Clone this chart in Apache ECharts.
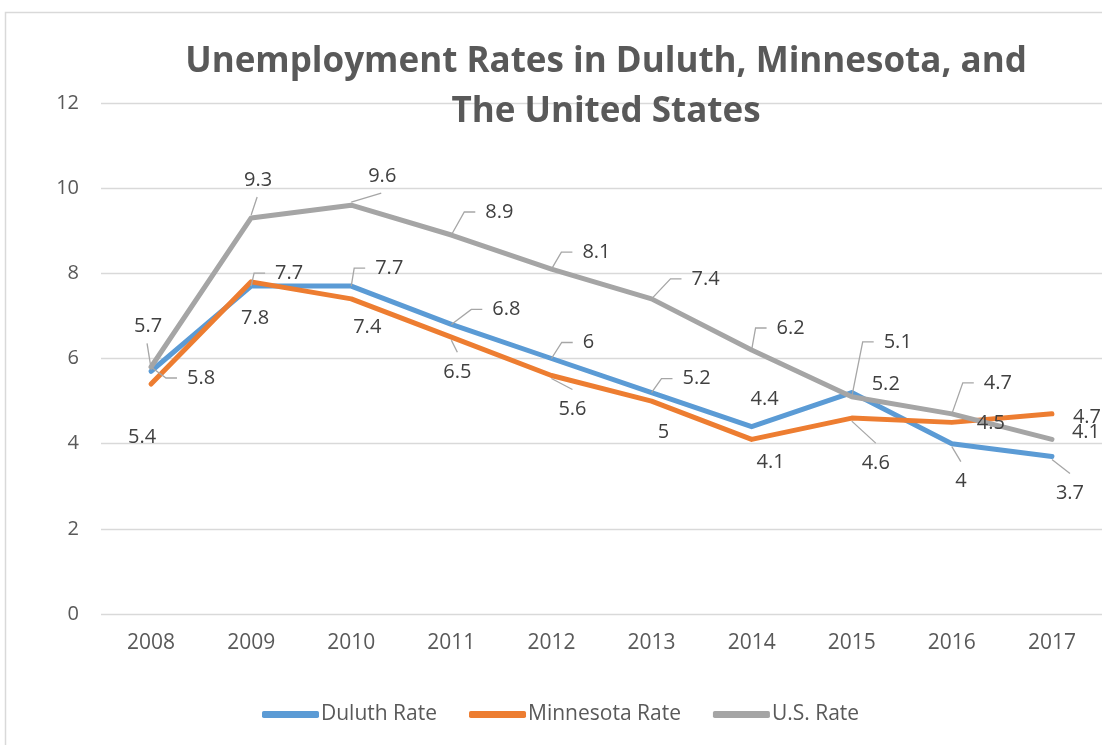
<!DOCTYPE html>
<html>
<head>
<meta charset="utf-8">
<title>Unemployment Rates</title>
<script src="https://cdn.jsdelivr.net/npm/echarts@6/dist/echarts.min.js"></script>
<style>
html, body { margin: 0; padding: 0; background: #fff; }
#main { width: 1102px; height: 745px; }
</style>
</head>
<body>
<div id="main"></div>
<script>
var years = ['2008', '2009', '2010', '2011', '2012', '2013', '2014', '2015', '2016', '2017'];
var duluthRate = [5.7, 7.7, 7.7, 6.8, 6, 5.2, 4.4, 5.2, 4, 3.7];
var minnesotaRate = [5.4, 7.8, 7.4, 6.5, 5.6, 5, 4.1, 4.6, 4.5, 4.7];
var usRate = [5.8, 9.3, 9.6, 8.9, 8.1, 7.4, 6.2, 5.1, 4.7, 4.1];

// where each data label sits relative to its point: [dx, dy, leader line kind]
var duluthLabelPos = [[-3, -45, 'up'], [38, -13, 'br'], [38, -18, 'br'], [55, -15, 'br'], [37, -16, 'br'],
    [45, -14, 'br'], [13, -27, ''], [34, -8, ''], [9, 38, 'dn'], [18, 37, 'dn']];
var minnesotaLabelPos = [[-9, 53, ''], [4, 36, ''], [16, 28, ''], [6, 35, 'dn'], [21, 34, 'dn'],
    [12, 31, ''], [19, 23, ''], [24, 45, 'dn'], [39, 1, ''], [35, 3, '']];
var usLabelPos = [[50, 11, 'br'], [7, -38, 'up'], [31, -29, 'up'], [48, -23, 'br'], [45, -17, 'br'],
    [54, -20, 'br'], [39, -22, 'br'], [46, -55, 'br'], [46, -31, 'br'], [34, -7, '']];

var textColor = '#595959';
var font = '"Open Sans", "Noto Sans", sans-serif';
var labelSize = 20;

var measureCtx = document.createElement('canvas').getContext('2d');
measureCtx.font = labelSize + 'px ' + font;
function textWidth(s) {
    return measureCtx.measureText(s).width;
}

function labelLayoutFor(pos) {
    return function (p) {
        var o = pos[p.dataIndex];
        return {
            x: p.rect.x + p.rect.width / 2 + o[0],
            y: p.rect.y + p.rect.height / 2 + o[1],
            align: 'center',
            verticalAlign: 'middle'
        };
    };
}

function lineSeries(name, data, color, pos) {
    return {
        name: name,
        type: 'line',
        data: data,
        symbol: 'circle',
        symbolSize: 2,
        showSymbol: true,
        lineStyle: { color: color, width: 5, cap: 'round', join: 'round' },
        itemStyle: { color: color },
        label: {
            show: true,
            color: '#404040',
            fontFamily: font,
            fontSize: labelSize
        },
        labelLayout: labelLayoutFor(pos),
        emphasis: { disabled: true },
        z: 2
    };
}

// leader lines, Excel callout style
function leaderSeries(data, pos) {
    return {
        type: 'custom',
        silent: true,
        z: 3,
        data: data.map(function (v, i) { return [i, v]; }),
        renderItem: function (params, api) {
            var i = params.dataIndex;
            var o = pos[i];
            if (!o[2]) return null;
            var pt = api.coord([api.value(0), api.value(1)]);
            var px = pt[0], py = pt[1];
            var cx = px + o[0], cy = py + o[1];
            var pts;
            if (o[2] === 'br') {
                var w = textWidth(String(data[i]));
                pts = [[px, py], [cx - w / 2 - 21, cy], [cx - w / 2 - 10, cy]];
            } else if (o[2] === 'up') {
                pts = [[px, py - 3], [cx - 1, cy + 17]];
            } else {
                pts = [[px, py + 3], [cx, cy - 20]];
            }
            return {
                type: 'polyline',
                shape: { points: pts },
                style: { stroke: '#A6A6A6', lineWidth: 1.3, fill: null }
            };
        }
    };
}

var myChart = echarts.init(document.getElementById('main'));
var option = {
    animation: false,
    backgroundColor: '#fff',
    graphic: [{
        type: 'rect',
        left: 3,
        top: 10,
        shape: { width: 1200, height: 800 },
        style: { fill: 'none', stroke: '#D9D9D9', lineWidth: 1.5 },
        silent: true
    }],
    title: {
        text: 'Unemployment Rates in Duluth, Minnesota, and\nThe United States',
        left: 601,
        top: 32,
        textAlign: 'center',
        textStyle: {
            color: textColor,
            fontFamily: font,
            fontSize: 35,
            fontWeight: 'bold',
            lineHeight: 50
        }
    },
    legend: {
        left: 257,
        top: 699,
        icon: 'roundRect',
        itemWidth: 57,
        itemHeight: 7,
        itemGap: 32,
        data: ['Duluth Rate', 'Minnesota Rate', 'U.S. Rate'],
        textStyle: { color: textColor, fontFamily: font, fontSize: 21, padding: [0, 0, 0, -3] }
    },
    grid: { left: 101, top: 103, width: 1003, bottom: 131, containLabel: false },
    xAxis: {
        type: 'category',
        data: years,
        boundaryGap: true,
        axisLine: { show: false },
        axisTick: { show: false },
        axisLabel: { color: textColor, fontFamily: font, fontSize: 21, margin: 19 }
    },
    yAxis: {
        type: 'value',
        min: 0,
        max: 12,
        interval: 2,
        axisLine: { show: false },
        axisTick: { show: false },
        axisLabel: { color: textColor, fontFamily: font, fontSize: 20, margin: 22 },
        splitLine: { lineStyle: { color: '#D9D9D9', width: 1.3 } }
    },
    series: [
        lineSeries('Duluth Rate', duluthRate, '#5B9BD5', duluthLabelPos),
        lineSeries('Minnesota Rate', minnesotaRate, '#ED7D31', minnesotaLabelPos),
        lineSeries('U.S. Rate', usRate, '#A5A5A5', usLabelPos),
        leaderSeries(duluthRate, duluthLabelPos),
        leaderSeries(minnesotaRate, minnesotaLabelPos),
        leaderSeries(usRate, usLabelPos)
    ]
};
myChart.setOption(option);
</script>
</body>
</html>
